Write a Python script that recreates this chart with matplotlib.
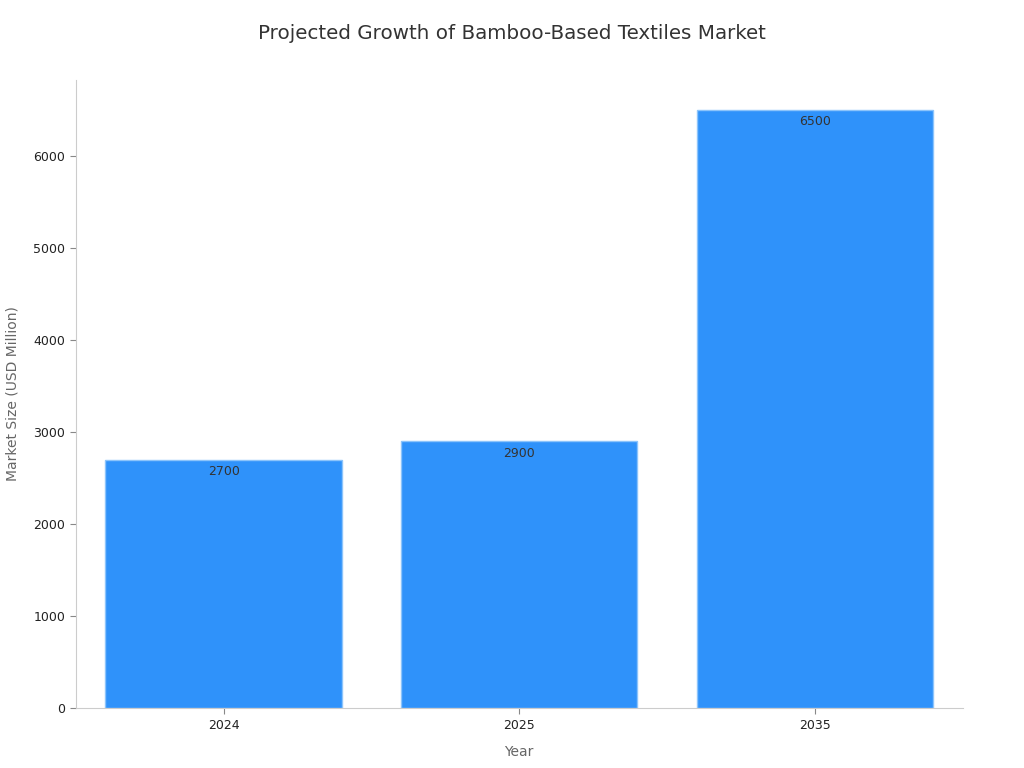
import matplotlib.pyplot as plt
import numpy as np

years = ["2024", "2025", "2035"]
market_size = [2700, 2900, 6500]

fig = plt.figure(figsize=(10.24, 7.68), dpi=100)
ax = fig.add_axes([0.074, 0.078, 0.866, 0.818])

x = np.arange(len(years))
ax.bar(x, market_size, width=0.8, color="#2F92FA", edgecolor="#8CC4FB", linewidth=1)

for xi, v in zip(x, market_size):
    ax.annotate(str(v), (xi, v), xytext=(0, -4), textcoords="offset points",
                ha="center", va="top", fontsize=9, color="#333333")

ax.set_xlim(-0.5, 2.5)
ax.set_ylim(0, 6825)
ax.set_xticks(x)
ax.set_xticklabels(years)
ax.set_yticks(np.arange(0, 6001, 1000))

for s in ["top", "right"]:
    ax.spines[s].set_visible(False)
for s in ["left", "bottom"]:
    ax.spines[s].set_color("#cccccc")

ax.tick_params(axis="both", labelsize=9, colors="#222222", length=4)
ax.tick_params(axis="both", color="#888888")

ax.set_xlabel("Year", fontsize=10, color="#666666", labelpad=10)
ax.set_ylabel("Market Size (USD Million)", fontsize=10, color="#666666", labelpad=10)
fig.suptitle("Projected Growth of Bamboo-Based Textiles Market", fontsize=14.3, color="#333333", y=0.969)

fig.savefig("out.png", dpi=100)
